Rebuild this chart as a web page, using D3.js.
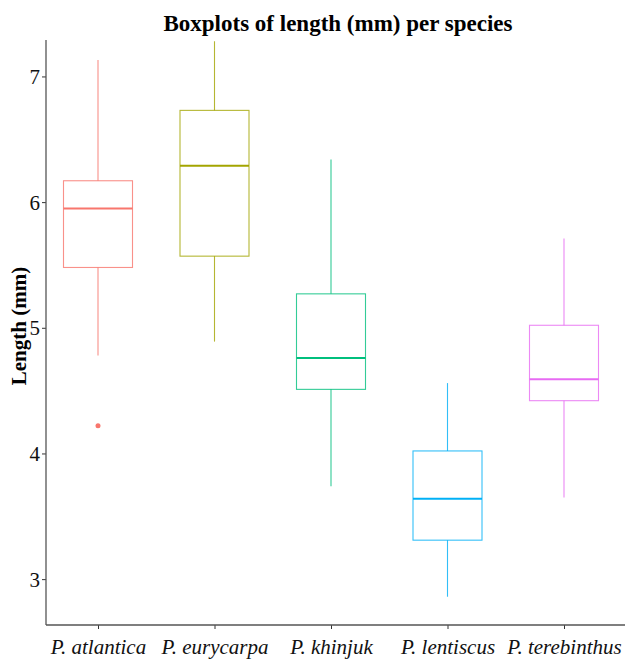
<!DOCTYPE html>
<html lang="en">
<head>
    <meta charset="UTF-8">
    <title>Boxplots of length per species</title>
    <script src="https://d3js.org/d3.v7.min.js"></script>
    <style>
        body{
            margin: 0;
            background: #fff;
        }
        svg text{
            font-family: "Times New Roman", "Liberation Serif", "DejaVu Serif", serif;
        }
    </style>
</head>
<body>
<svg width="625" height="660"></svg>
<script>
    // species and the five box statistics
    const species = ["P. atlantica", "P. eurycarpa", "P. khinjuk", "P. lentiscus", "P. terebinthus"];
    const colours = ["#F8766D", "#A3A500", "#00BF7D", "#00B0F6", "#E76BF3"];
    const lowWhisker = [4.78, 4.89, 3.74, 2.86, 3.65];
    const q1 = [5.48, 5.57, 4.51, 3.31, 4.42];
    const median = [5.95, 6.29, 4.76, 3.64, 4.59];
    const q3 = [6.17, 6.73, 5.27, 4.02, 5.02];
    const highWhisker = [7.13, 7.28, 6.34, 4.56, 5.71];
    const outliers = [[4.22], [], [], [], []];
    const yTicks = [3, 4, 5, 6, 7];

    const svg = d3.select("svg");

    const padL = 46, padR = 625, padT = 40, padB = 625;

    // x: categories, y: length
    const x = d3.scalePoint()
        .domain(species)
        .range([98, 564]);

    const y = d3.scaleLinear()
        .domain([2.635, 7.29])
        .range([padB, padT]);

    const boxW = 69;

    const rows = species.map((s, i) => ({
        name: s, col: colours[i],
        lo: lowWhisker[i], q1: q1[i], med: median[i], q3: q3[i], hi: highWhisker[i],
        out: outliers[i]
    }));

    const g = svg.append("g");

    const box = g.selectAll("g.box")
        .data(rows)
        .enter()
        .append("g")
        .attr("class", "box");

    // whiskers
    box.append("line")
        .attr("x1", d => x(d.name)).attr("x2", d => x(d.name))
        .attr("y1", d => y(d.hi)).attr("y2", d => y(d.q3))
        .attr("stroke", d => d.col).attr("stroke-width", 1.1).attr("opacity", 0.8);
    box.append("line")
        .attr("x1", d => x(d.name)).attr("x2", d => x(d.name))
        .attr("y1", d => y(d.q1)).attr("y2", d => y(d.lo))
        .attr("stroke", d => d.col).attr("stroke-width", 1.1).attr("opacity", 0.8);

    // box
    box.append("rect")
        .attr("x", d => x(d.name) - boxW / 2)
        .attr("width", boxW)
        .attr("y", d => y(d.q3))
        .attr("height", d => y(d.q1) - y(d.q3))
        .attr("fill", "none")
        .attr("stroke", d => d.col).attr("stroke-width", 1.1).attr("opacity", 0.8);

    // median
    box.append("line")
        .attr("x1", d => x(d.name) - boxW / 2).attr("x2", d => x(d.name) + boxW / 2)
        .attr("y1", d => y(d.med)).attr("y2", d => y(d.med))
        .attr("stroke", d => d.col).attr("stroke-width", 2);

    // outliers
    box.selectAll("circle")
        .data(d => d.out.map(v => ({v: v, name: d.name, col: d.col})))
        .enter()
        .append("circle")
        .attr("cx", d => x(d.name))
        .attr("cy", d => y(d.v))
        .attr("r", 2.5)
        .attr("fill", d => d.col);

    // axes
    const yAxis = g.append("g")
        .attr("transform", `translate(${padL},0)`)
        .call(d3.axisLeft(y).tickValues(yTicks).tickSize(4).tickFormat(d3.format("d")));
    const xAxis = g.append("g")
        .attr("transform", `translate(0,${padB})`)
        .call(d3.axisBottom(x).tickSize(4));

    // d3 axes set font-family="sans-serif" on the group, so drop it
    [yAxis, xAxis].forEach(a => {
        a.attr("font-family", null);
        a.select(".domain").remove();
        a.selectAll(".tick line").attr("stroke", "#333");
        a.selectAll("text").attr("fill", "#111");
    });
    yAxis.selectAll("text").attr("font-size", 21).attr("x", -6).attr("dy", "0.34em");
    xAxis.selectAll("text").attr("font-size", 21).attr("font-style", "italic").attr("dy", "1.05em");

    g.append("line")
        .attr("x1", padL).attr("x2", padL).attr("y1", padT).attr("y2", padB)
        .attr("stroke", "#555").attr("stroke-width", 1.3);
    g.append("line")
        .attr("x1", padL).attr("x2", padR).attr("y1", padB).attr("y2", padB)
        .attr("stroke", "#555").attr("stroke-width", 1.3);

    // titles
    svg.append("text")
        .attr("x", 338).attr("y", 31)
        .attr("text-anchor", "middle")
        .attr("font-size", 23).attr("font-weight", "bold")
        .text("Boxplots of length (mm) per species");

    svg.append("text")
        .attr("transform", `translate(26,326) rotate(-90)`)
        .attr("text-anchor", "middle")
        .attr("font-size", 21).attr("font-weight", "bold")
        .text("Length (mm)");
</script>
</body>
</html>
